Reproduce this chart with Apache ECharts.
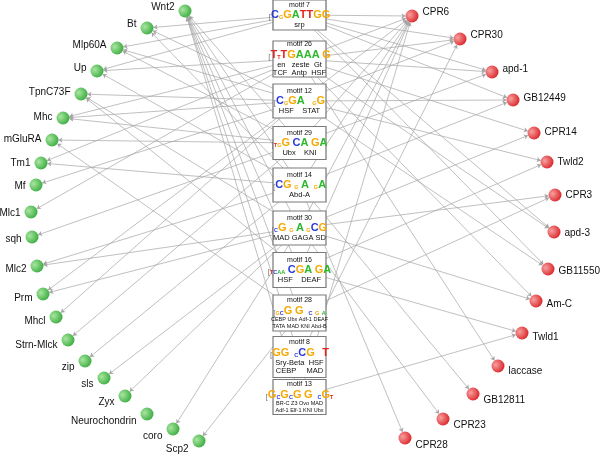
<!DOCTYPE html>
<html>
<head>
<meta charset="utf-8">
<script src="https://cdn.jsdelivr.net/npm/echarts@6/dist/echarts.min.js"></script>
<style>
  html, body { margin: 0; padding: 0; background: #fff; }
  #chart { width: 600px; height: 456px; }
</style>
</head>
<body>
<div id="chart"></div>
<script>
// green genes (left arc)
const leftGenes = ['Wnt2', 'Bt', 'Mlp60A', 'Up', 'TpnC73F', 'Mhc', 'mGluRA', 'Tm1', 'Mf', 'Mlc1', 'sqh',
  'Mlc2', 'Prm', 'Mhcl', 'Strn-Mlck', 'zip', 'sls', 'Zyx', 'Neurochondrin', 'coro', 'Scp2']
const leftX = [185, 147, 117, 97, 81, 63, 52, 41, 36, 31, 32, 37, 43, 56, 68, 85, 104, 125, 147, 173, 199]
const leftY = [11, 28, 48, 71, 94, 118, 140, 163, 185, 212, 237, 266, 294, 317, 340, 361, 378, 396, 414, 429, 441]

// red genes (right arc)
const rightGenes = ['CPR6', 'CPR30', 'apd-1', 'GB12449', 'CPR14', 'Twld2', 'CPR3', 'apd-3', 'GB11550',
  'Am-C', 'Twld1', 'laccase', 'GB12811', 'CPR23', 'CPR28']
const rightX = [412, 460, 492, 513, 534, 547, 555, 554, 548, 536, 522, 498, 473, 443, 405]
const rightY = [16, 39, 72, 100, 133, 162, 195, 232, 269, 301, 333, 366, 394, 419, 438]

// motifs (middle column)
const motifNames = ['motif 7', 'motif 26', 'motif 12', 'motif 29', 'motif 14', 'motif 30', 'motif 16', 'motif 28', 'motif 8', 'motif 13']
const motifX = 299.5
const motifY = [15, 59, 101, 143, 185, 228, 270, 313, 357, 397]
// logo letters: upper case = tall, lower case = short, '.' = empty position
const motifLogos = ['CgGATTGG', 'TtTGAAA.G', 'CgGA...gG', 'tgG.CA.GA', 'CG.g.A..gA', 'cG.g.A.gCG',
  'tcaa.CGA.GA', 'gcG.G..c.g.a', 'GG..cCG...T', 'GcGcG.G..cGt']
const motifTFs = [
  ['srp'],
  ['en   zeste  Gt', 'TCF  Antp  HSF'],
  ['HSF    STAT'],
  ['Ubx    KNI'],
  ['Abd-A'],
  ['MAD GAGA SD'],
  ['HSF    DEAF'],
  ['CEBP Ubx Adf-1 DEAF', 'TATA MAD KNI Abd-B'],
  ['Sry-Beta  HSF', 'CEBP     MAD'],
  ['BR-C Z3 Ovo MAD', 'Adf-1 Elf-1 KNI Ubx']
]

// regulatory links: motif -> genes
const motifTargets = [
  ['Bt', 'Mlp60A', 'Up', 'CPR6', 'CPR30', 'apd-1', 'GB12449', 'apd-3', 'GB11550'],
  ['Up', 'Mhc', 'Tm1', 'Mlc1', 'CPR6', 'CPR30', 'apd-1', 'CPR14', 'apd-3', 'Am-C', 'laccase'],
  ['Bt', 'Mlp60A', 'TpnC73F', 'Mhc', 'Mf', 'Prm', 'Mhcl', 'CPR6', 'CPR30', 'GB12449', 'Twld2', 'GB11550'],
  ['Wnt2', 'Mlp60A', 'Mhc', 'mGluRA', 'sqh', 'Strn-Mlck', 'CPR6', 'apd-1'],
  ['Wnt2', 'Bt', 'Up', 'Tm1', 'Mlc2', 'zip', 'CPR6', 'GB12449', 'GB12811', 'CPR28'],
  ['Wnt2', 'TpnC73F', 'Mlc2', 'Prm', 'sls', 'Zyx', 'coro', 'CPR6', 'CPR14', 'CPR3', 'Am-C', 'CPR23'],
  ['Wnt2', 'TpnC73F', 'CPR6', 'Twld2', 'Twld1'],
  ['Wnt2', 'mGluRA', 'Scp2', 'CPR3'],
  ['Wnt2', 'CPR30'],
  ['Wnt2', 'CPR6', 'Twld1']
]

const boxH = [30, 36, 34, 33, 34, 34, 35, 36, 41, 35]
const letterColor = { A: '#2bb82b', C: '#2a3bd8', G: '#f5a900', T: '#e2231e' }
const FONT = "'Liberation Sans', Arial, sans-serif"

const rich = {
  ttl: { fontSize: 7, lineHeight: 8, color: '#111', fontFamily: FONT },
  ax: { fontSize: 8, lineHeight: 12, verticalAlign: 'bottom', color: '#777', fontFamily: FONT },
  gap: { width: 2.5, lineHeight: 6 },
  tf: { fontSize: 7.5, lineHeight: 8.5, color: '#111', fontFamily: FONT },
  tfs: { fontSize: 5.5, lineHeight: 6.5, color: '#111', fontFamily: FONT }
}
Object.keys(letterColor).forEach(k => {
  rich['L' + k] = { fontSize: 11, fontWeight: 'bold', lineHeight: 12, verticalAlign: 'bottom',
    color: letterColor[k], fontFamily: FONT }
  rich['s' + k] = { fontSize: 5.5, fontWeight: 'bold', lineHeight: 6, verticalAlign: 'bottom',
    color: letterColor[k], fontFamily: FONT }
})

function motifLabel (i) {
  const logo = motifLogos[i].split('').map(ch => {
    if (ch === '.') return '{gap| }'
    const up = ch.toUpperCase()
    return '{' + (ch === up ? 'L' : 's') + up + '|' + up + '}'
  }).join('')
  const tfStyle = motifTFs[i][0].length > 14 ? 'tfs' : 'tf'
  const tfs = motifTFs[i].map(s => '{' + tfStyle + '|' + s + '}').join('\n')
  return '{ttl|' + motifNames[i] + '}\n{ax|[}' + logo + '\n' + tfs
}

function ball (c0, c1) {
  return {
    type: 'radial', x: 0.32, y: 0.4, r: 0.75,
    colorStops: [{ offset: 0, color: c0 }, { offset: 1, color: c1 }]
  }
}

const nodes = []
leftGenes.forEach((g, i) => {
  nodes.push({
    name: g,
    value: [leftX[i], leftY[i]],
    symbol: 'circle',
    symbolSize: 13,
    itemStyle: { color: ball('#a8e6a0', '#33a838') },
    label: { show: true, position: 'left', distance: 4, offset: [0, -4 + (leftY[i] - 10) / 431 * 12] }
  })
})
rightGenes.forEach((g, i) => {
  nodes.push({
    name: g,
    value: [rightX[i], rightY[i]],
    symbol: 'circle',
    symbolSize: 13,
    itemStyle: { color: ball('#f7a0a0', '#d81c20') },
    label: { show: true, position: 'right', distance: 4, offset: [0, -4 + (rightY[i] - 16) / 422 * 11] }
  })
})
motifNames.forEach((m, i) => {
  nodes.push({
    name: m,
    value: [motifX, motifY[i]],
    symbol: 'rect',
    symbolSize: [53, boxH[i]],
    itemStyle: { color: '#fff', borderColor: '#7a7a7a', borderWidth: 1 },
    label: { show: true, position: 'inside', formatter: motifLabel(i), rich: rich }
  })
})

const links = []
motifTargets.forEach((targets, i) => {
  targets.forEach(g => links.push({ source: motifNames[i], target: g }))
})

const chart = echarts.init(document.getElementById('chart'), null, { renderer: 'canvas' })
chart.setOption({
  backgroundColor: '#fff',
  animation: false,
  grid: { left: 0, right: 0, top: 0, bottom: 0 },
  xAxis: { type: 'value', min: 0, max: 600, show: false },
  yAxis: { type: 'value', min: 0, max: 456, inverse: true, show: false },
  series: [{
    type: 'graph',
    coordinateSystem: 'cartesian2d',
    layout: 'none',
    data: nodes,
    links: links,
    edgeSymbol: ['none', 'arrow'],
    edgeSymbolSize: [0, 4],
    label: { color: '#111', fontSize: 10, fontFamily: FONT },
    lineStyle: { color: '#a5a5a5', width: 0.7, opacity: 1, curveness: 0 },
    emphasis: { disabled: true }
  }]
})
</script>
</body>
</html>
